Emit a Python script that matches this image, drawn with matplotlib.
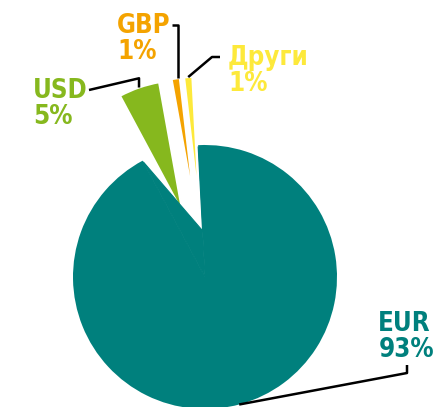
import numpy as np
import matplotlib
matplotlib.use("Agg")
import matplotlib.pyplot as plt
from matplotlib import font_manager
from matplotlib.patches import Polygon

# 数据（逆时针，从顶部开始）
labels = ["Други", "GBP", "USD", "EUR"]
shares = [1, 1, 5, 93]
colors = ["#FDE93B", "#F4A300", "#86B81E", "#00807D"]
explode = [0.52, 0.52, 0.52, 0.0]

W, H = 435, 407
R_PX = 132.0
CX, CY = 205.0, 277.0


def px(x, y):
    """像素坐标（左上原点）-> 数据坐标（饼心为原点，半径 = 1）"""
    return (x - CX) / R_PX, (CY - y) / R_PX


# 窄体字优先；没有就退到 DejaVu Sans Condensed
_names = {f.name for f in font_manager.fontManager.ttflist}
if "Liberation Sans Narrow" in _names:
    FONT = dict(family=["Liberation Sans Narrow", "DejaVu Sans"])
else:
    FONT = dict(family=["DejaVu Sans"], fontstretch="condensed")

fig = plt.figure(figsize=(W / 100, H / 100), dpi=100)
ax = fig.add_axes([0, 0, 1, 1])

wedges, _ = ax.pie(shares, colors=colors, explode=explode, startangle=93,
                   counterclock=True, radius=1.0,
                   wedgeprops=dict(edgecolor="white", linewidth=1.5))
# pie() 会重设范围，之后再定
ax.set_xlim(px(0, 0)[0], px(W, 0)[0])
ax.set_ylim(px(0, H)[1], px(0, 0)[1])
ax.set_aspect("equal")
ax.axis("off")

# 原图 EUR 的缺口顶点不在圆心，而是往上抬了约 0.29R：补一块同色四边形
eur = wedges[-1]
eur.set_linewidth(0)
t1, t2 = np.deg2rad(eur.theta1), np.deg2rad(eur.theta2)
apex = (0.29 * np.cos(np.deg2rad(83)), 0.29 * np.sin(np.deg2rad(83)))
ax.add_patch(Polygon([(0, 0), (np.cos(t1) * 0.99, np.sin(t1) * 0.99), apex,
                      (np.cos(t2) * 0.99, np.sin(t2) * 0.99)],
                     closed=True, facecolor=colors[-1], edgecolor=colors[-1], lw=0.8,
                     zorder=eur.get_zorder() + 0.1))


def anchor(w, frac=0.5, r=1.0):
    th = np.deg2rad(w.theta1 + frac * (w.theta2 - w.theta1))
    cx, cy = w.center
    return cx + r * np.cos(th), cy + r * np.sin(th)


# 标签位置 / 引线起点（像素）
text_pos = {"USD": (33, 78), "GBP": (117, 13), "Други": (228, 45), "EUR": (434, 311)}
starts = {
    "USD": [(89, 90)],
    "GBP": [(172, 25)],
    "Други": [(220, 57), (212, 57)],
    "EUR": [(407, 365), (407, 373)],
}
fracs = {"USD": 0.5, "GBP": 0.25, "Други": 0.5}

for lab, val, col, w in zip(labels, shares, colors, wedges):
    tx, ty = px(*text_pos[lab])
    ax.text(tx, ty, f"{lab}\n{val}%", color=col, fontsize=18.5, fontweight="bold",
            ha="right" if lab == "EUR" else "left", va="top", multialignment="left",
            linespacing=0.98, **FONT)
    pts = [px(*p) for p in starts[lab]]
    if lab == "EUR":
        end = (w.center[0] + np.cos(np.deg2rad(-75)), w.center[1] + np.sin(np.deg2rad(-75)))
    else:
        end = anchor(w, fracs[lab])
        if lab == "USD":
            pts.append((end[0], end[1] + 0.07))
        elif lab == "GBP":
            pts.append((end[0], pts[0][1]))
    pts.append(end)
    xs, ys = zip(*pts)
    ax.plot(xs, ys, color="black", lw=1.8, solid_capstyle="butt", clip_on=False, zorder=3)

fig.savefig("out.png", dpi=100)
